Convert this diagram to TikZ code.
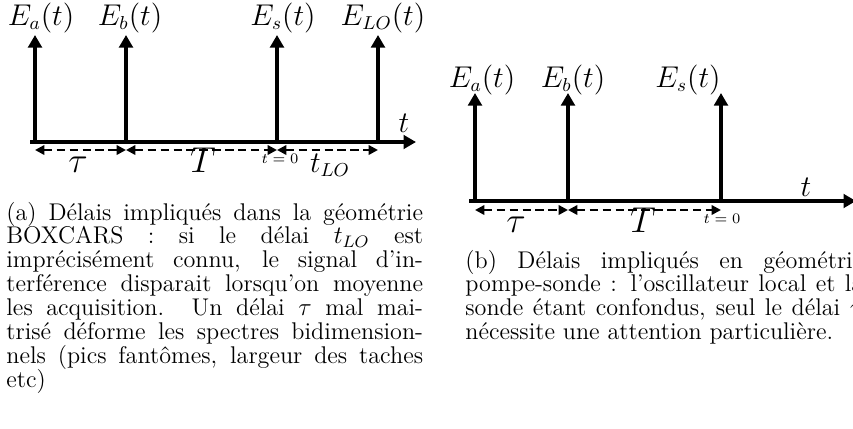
\documentclass[tikz,border=0pt]{standalone}
\usetikzlibrary{arrows.meta}
\newcommand\capsetup{\tolerance=10000\relax\hbadness=10000\relax\hyphenpenalty=10000\relax\lineskiplimit=-20pt\relax}
\begin{document}
\begin{tikzpicture}[x=0.48pt,y=-0.48pt,
  pulse/.style={line width=1.9pt,-{Triangle[width=6.5pt,length=6pt]}},
  axisline/.style={line width=1.9pt,-{Triangle[width=6.5pt,length=6pt]}},
  span/.style={line width=1.2pt,dash pattern=on 4pt off 2.2pt,
    {Triangle[width=4.5pt,length=4.5pt]}-{Triangle[width=4.5pt,length=4.5pt]}},
  lbl/.style={inner sep=0pt,anchor=base,font=\fontsize{13.5}{16}\selectfont},
  biglbl/.style={inner sep=0pt,anchor=base,font=\fontsize{16.5}{20}\selectfont},
  zero/.style={inner sep=0pt,anchor=base,font=\scriptsize},
  captxt/.style={inner sep=0pt,anchor=base west,text width=#1,align=justify,
    font=\fontsize{11.6}{11.5}\selectfont\capsetup}]
\useasboundingbox (0,0) rectangle (853,429);
\clip (0,0) rectangle (853,429);

% ---------- (a) ----------
\coordinate (axA0) at (30,142);
\coordinate (axA1) at (416,142);
\coordinate (pa0) at (35,142);  \coordinate (pa1) at (35,35);
\coordinate (pb0) at (126,142); \coordinate (pb1) at (126,35);
\coordinate (ps0) at (277,142); \coordinate (ps1) at (277,35);
\coordinate (pl0) at (378,142); \coordinate (pl1) at (378,35);
\coordinate (da) at (35,150);
\coordinate (db) at (126,150);
\coordinate (ds) at (277,150);
\coordinate (dl) at (378,150);

\draw[axisline] (axA0) -- (axA1);
\draw[pulse] (pa0) -- (pa1);
\draw[pulse] (pb0) -- (pb1);
\draw[pulse] (ps0) -- (ps1);
\draw[pulse] (pl0) -- (pl1);
\draw[span] (da) -- (db);
\draw[span] (db) -- (ds);
\draw[span] (ds) -- (dl);

\node[lbl] (lEa) at (41,25) {$E_a(t)$};
\node[lbl] (lEb) at (130,25) {$E_b(t)$};
\node[lbl] (lEs) at (283,25) {$E_s(t)$};
\node[lbl] (lElo) at (383,25) {$E_{LO}(t)$};
\node[lbl] (ltA) at (404,132) {$t$};
\node[biglbl] (ltauA) at (78,172) {$\tau$};
\node[biglbl] (lTA) at (203,172) {$T$};
\node[lbl] (ltlo) at (330,172) {$t_{LO}$};
\node[zero] (lzA) at (280,163) {$t=0$};

\node[captxt=200pt] (capA) at (6,220) {(a) Délais impliqués dans la géométrie\linebreak
BOXCARS : si le délai $t_{LO}$ est\linebreak
imprécisément connu, le signal d'in-\linebreak
terférence disparait lorsqu'on moyenne\linebreak
les acquisition. Un délai $\tau$ mal mai-\linebreak
trisé déforme les spectres bidimension-\linebreak
nels (pics fantômes, largeur des taches\linebreak
etc)};

% ---------- (b) ----------
\coordinate (axB0) at (469,201);
\coordinate (axB1) at (856,201);
\coordinate (qa0) at (475,201); \coordinate (qa1) at (475,93);
\coordinate (qb0) at (568,201); \coordinate (qb1) at (568,93);
\coordinate (qs0) at (721,201); \coordinate (qs1) at (721,93);
\coordinate (ea) at (475,210);
\coordinate (eb) at (568,210);
\coordinate (es) at (721,210);

\draw[axisline] (axB0) -- (axB1);
\draw[pulse] (qa0) -- (qa1);
\draw[pulse] (qb0) -- (qb1);
\draw[pulse] (qs0) -- (qs1);
\draw[span] (ea) -- (eb);
\draw[span] (eb) -- (es);

\node[lbl] (mEa) at (482,87) {$E_a(t)$};
\node[lbl] (mEb) at (573,87) {$E_b(t)$};
\node[lbl] (mEs) at (688,87) {$E_s(t)$};
\node[lbl] (mtB) at (806,196) {$t$};
\node[biglbl] (mtauB) at (516,232) {$\tau$};
\node[biglbl] (mTB) at (643,232) {$T$};
\node[zero] (mzB) at (722,223) {$t=0$};

\node[captxt=191pt] (capB) at (465,268) {(b) Délais impliqués en géométrie\linebreak
pompe-sonde : l'oscillateur local et la\linebreak
sonde étant confondus, seul le délai $\tau$\linebreak
nécessite une attention particulière.};
\end{tikzpicture}
\end{document}
